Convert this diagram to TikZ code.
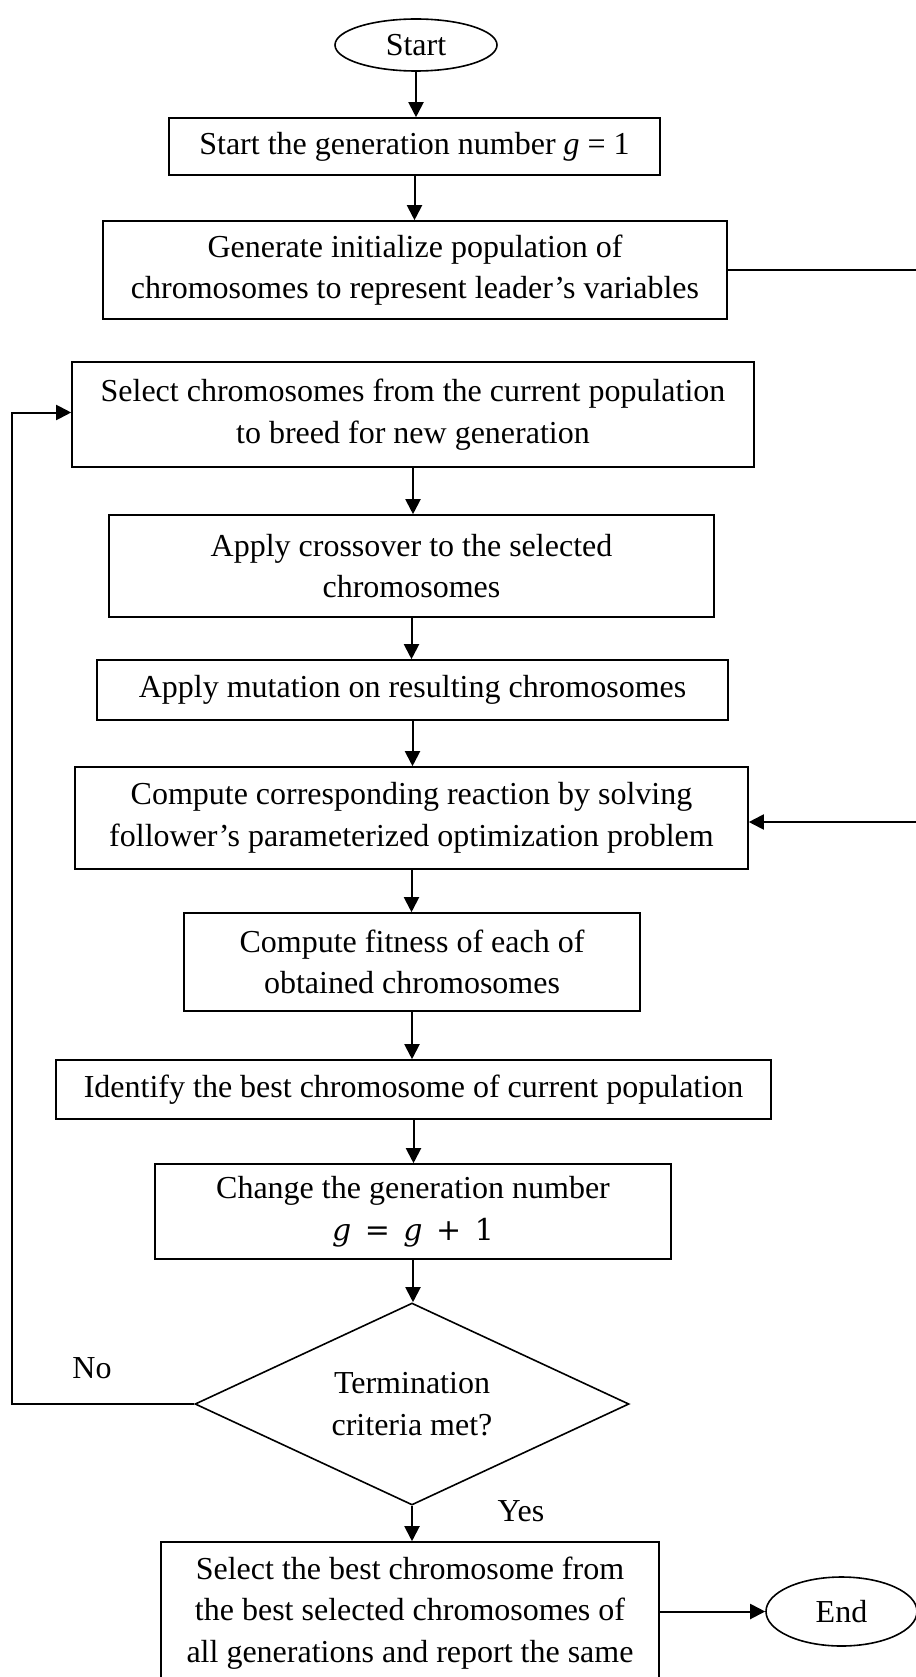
\documentclass[tikz,border=0pt]{standalone}
\usepackage{fontspec}
\setmainfont{Liberation Serif}
\newfontfamily\eqfont{DejaVu Serif}
\usetikzlibrary{shapes.geometric,arrows.meta}

\tikzset{
  txt/.style={font={\fontsize{32}{41.5}\selectfont}},
  box/.style={txt, draw, line width=1.6pt, rectangle, align=center, inner sep=0pt},
  oval/.style={txt, draw, line width=1.6pt, ellipse, inner sep=0pt},
  decision/.style={txt, draw, line width=1.6pt, diamond, align=center, inner sep=0pt, shape aspect=2.15},
  wire/.style={line width=2pt},
  conn/.style={wire, -{Triangle[length=15pt,width=15pt]}},
}

\begin{document}
\begin{tikzpicture}[x=1pt,y=-1pt]
\useasboundingbox (0,0) rectangle (915,1677);

% terminals
\node[oval, minimum width=162pt, minimum height=52pt] (start) at (416,45) {Start};
\node[oval, minimum width=151pt, minimum height=69pt] (stop) at (841.5,1611.5) {End};

% process steps
\node[box, minimum width=491pt, minimum height=57pt] (b1) at (414.5,146.5)
  {Start the generation number \textit{g} = 1};
\node[box, minimum width=624pt, minimum height=98pt] (b2) at (415,270)
  {Generate initialize population of\\chromosomes to represent leader’s variables};
\node[box, minimum width=682pt, minimum height=105pt] (b3) at (413,414.5)
  {Select chromosomes from the current population\\to breed for new generation};
\node[box, minimum width=605pt, minimum height=102pt] (b4) at (411.5,566)
  {Apply crossover to the selected\\chromosomes};
\node[box, minimum width=631pt, minimum height=60pt] (b5) at (412.5,690)
  {Apply mutation on resulting chromosomes};
\node[box, minimum width=673pt, minimum height=102pt] (b6) at (411.5,818)
  {Compute corresponding reaction by solving\\follower’s parameterized optimization problem};
\node[box, minimum width=456pt, minimum height=98pt] (b7) at (412,962)
  {Compute fitness of each of\\obtained chromosomes};
\node[box, minimum width=715pt, minimum height=59pt] (b8) at (413.5,1089.5)
  {Identify the best chromosome of current population};
\node[box, minimum width=516pt, minimum height=95pt] (b9) at (413,1211.5)
  {Change the generation number\\{\eqfont\fontsize{30}{41.5}\selectfont\itshape g\upshape\hspace{0.45em}=\hspace{0.45em}\itshape g\upshape\hspace{0.45em}+\hspace{0.45em}1}};
\node[decision, minimum width=434pt, minimum height=202pt] (dec) at (412,1404)
  {Termination\\criteria met?};
\node[box, minimum width=498pt, minimum height=142pt] (b10) at (410,1613)
  {Select the best chromosome from\\the best selected chromosomes of\\all generations and report the same};

% branch labels
\node[txt] (nolbl) at (92,1368) {No};
\node[txt] (yeslbl) at (521,1511) {Yes};

% edge of the sheet for the outgoing side connector
\coordinate (rim) at (916,0);
\coordinate (loopx) at (12,0);

% main flow
\draw[conn] (start.south) -- (start.south |- b1.north);
\draw[conn] (b1.south) -- (b1.south |- b2.north);
\draw[wire] (b2.east) -- (b2.east -| rim);
\draw[conn] (b3.south) -- (b3.south |- b4.north);
\draw[conn] (b4.south) -- (b4.south |- b5.north);
\draw[conn] (b5.south) -- (b5.south |- b6.north);
\draw[conn] ([yshift=-4pt]b6.east -| rim) -- ([yshift=-4pt]b6.east);
\draw[conn] (b6.south) -- (b6.south |- b7.north);
\draw[conn] (b7.south) -- (b7.south |- b8.north);
\draw[conn] (b8.south) -- (b8.south |- b9.north);
\draw[conn] (b9.south) -- (b9.south |- dec.north);
\draw[conn] (dec.south) -- (dec.south |- b10.north);
\draw[conn] (dec.west) -- (dec.west -| loopx) |- ([yshift=2pt]b3.west);
\draw[conn] (b10.east |- stop.west) -- (stop.west);
\end{tikzpicture}
\end{document}
